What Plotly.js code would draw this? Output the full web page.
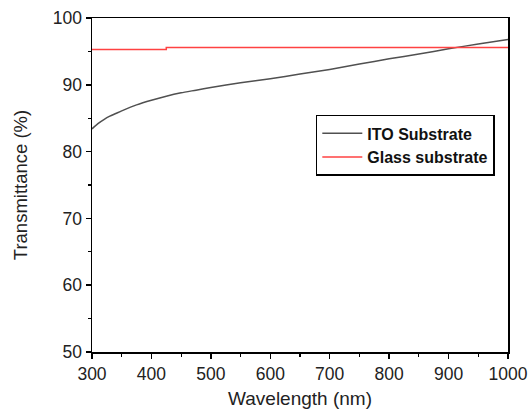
<!DOCTYPE html>
<html>
<head>
<meta charset="utf-8">
<script src="https://cdn.plot.ly/plotly-3.0.1.min.js"></script>
<style>html,body{margin:0;padding:0;background:#fff;}#chart{width:529px;height:417px;}</style>
</head>
<body>
<div id="chart"></div>
<script>
const wavelength = [300, 310, 320, 330, 340, 350, 375, 400, 425, 450, 475, 500, 550, 600, 650, 700, 750, 800, 850, 900, 950, 1000];
const itoT = [83.4, 84.2, 84.8, 85.3, 85.7, 86.1, 87.0, 87.7, 88.3, 88.8, 89.2, 89.6, 90.3, 90.9, 91.6, 92.3, 93.1, 93.9, 94.6, 95.4, 96.1, 96.8];
const glassWavelength = [300, 425, 1000];
const glassT = [95.3, 95.6, 95.6];
const xTicks = [300, 400, 500, 600, 700, 800, 900, 1000];
const yTicks = [50, 60, 70, 80, 90, 100];

const font = 'Liberation Sans, Arial, sans-serif';
const traces = [
  {x: wavelength, y: itoT, mode: 'lines', name: '<b>ITO Substrate</b>', line: {color: '#505050', width: 1.5, shape: 'spline', smoothing: 0.6}},
  {x: glassWavelength, y: glassT, mode: 'lines', name: '<b>Glass substrate</b>', line: {color: '#ff4242', width: 1.5, shape: 'hv'}}
];
const axisCommon = {
  showgrid: false, zeroline: false, showline: true, linecolor: '#000', linewidth: 1.5,
  mirror: true, ticks: 'outside', ticklen: 5, tickwidth: 1.5, tickcolor: '#000',
  tickfont: {family: font, size: 17.5, color: '#222'}
};
const layout = {
  width: 529, height: 417,
  margin: {l: 92, r: 21, t: 18, b: 65},
  paper_bgcolor: '#fff', plot_bgcolor: '#fff',
  showlegend: true,
  legend: {x: 0.538, y: 0.71, xanchor: 'left', yanchor: 'top', bgcolor: '#fff',
    bordercolor: '#000', borderwidth: 1.5, font: {family: font, size: 16, color: '#111'},
    tracegroupgap: 0, itemwidth: 40},
  xaxis: Object.assign({}, axisCommon, {
    range: [300, 1000], tickvals: xTicks, ticktext: xTicks.map(String),
    title: {text: 'Wavelength (nm)', font: {family: font, size: 19, color: '#222'}, standoff: 9}
  }),
  yaxis: Object.assign({}, axisCommon, {
    range: [50, 100], tickvals: yTicks, ticktext: yTicks.map(String),
    title: {text: 'Transmittance (%)', font: {family: font, size: 18.5, color: '#222'}, standoff: 20}
  })
};
layout.xaxis.minor = {ticks: 'outside', ticklen: 3, tickwidth: 1.2, tickcolor: '#000', dtick: 50, tick0: 300};
layout.yaxis.minor = {ticks: 'outside', ticklen: 3, tickwidth: 1.2, tickcolor: '#000', dtick: 5, tick0: 50};
Plotly.newPlot('chart', traces, layout, {displayModeBar: false, staticPlot: true});
</script>
</body>
</html>
